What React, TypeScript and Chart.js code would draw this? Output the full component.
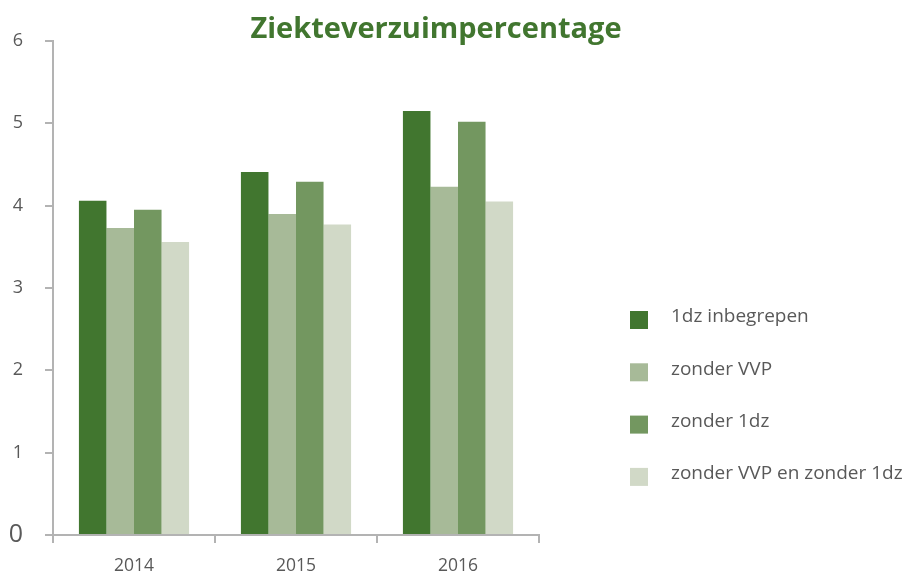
import { useEffect, useRef } from "react";
import { Chart, registerables } from "chart.js";

Chart.register(...registerables);

const TITLE = "Ziekteverzuimpercentage";
const categories = ["2014", "2015", "2016"];
const seriesLabels = ["1dz inbegrepen", "zonder VVP", "zonder 1dz", "zonder VVP en zonder 1dz"];
const inbegrepen = [4.06, 4.41, 5.15];
const zonderVVP = [3.73, 3.9, 4.23];
const zonder1dz = [3.95, 4.29, 5.02];
const zonderBeide = [3.56, 3.77, 4.05];
const seriesColors = ["#41762F", "#A7BA98", "#739760", "#D1D9C7"];
const yTicks = [0, 1, 2, 3, 4, 5, 6];

const textColor = "#595959";
const axisColor = "#B3B3B3";
const family = "'Open Sans', 'Noto Sans', sans-serif";

const titleLegendPlugin = {
  id: "titleLegend",
  afterDraw(chart: any) {
    const ctx = chart.ctx;
    ctx.save();
    ctx.fillStyle = "#41762F";
    ctx.font = `bold 29px ${family}`;
    ctx.textAlign = "center";
    ctx.textBaseline = "alphabetic";
    ctx.fillText(TITLE, 436, 38);

    const ds = chart.data.datasets;
    ctx.font = `19px ${family}`;
    ctx.textAlign = "left";
    ctx.textBaseline = "middle";
    ds.forEach((d: any, i: number) => {
      const cy = 320 + i * 52.3;
      ctx.fillStyle = d.backgroundColor;
      ctx.fillRect(630, cy - 9, 18, 18);
      ctx.fillStyle = textColor;
      ctx.fillText(d.label, 671, cy - 3);
    });
    ctx.restore();
  },
};

export default function App() {
  const ref = useRef<HTMLCanvasElement>(null);
  useEffect(() => {
    if (!ref.current) return;
    const values = [inbegrepen, zonderVVP, zonder1dz, zonderBeide];
    const chart = new Chart(ref.current, {
      type: "bar",
      data: {
        labels: categories,
        datasets: seriesLabels.map((label, i) => ({
          label,
          data: values[i],
          backgroundColor: seriesColors[i],
          borderWidth: 0,
          categoryPercentage: 0.68,
          barPercentage: 1.0,
        })),
      },
      options: {
        animation: false,
        responsive: true,
        maintainAspectRatio: false,
        layout: { padding: { left: 0, right: 373, top: 41, bottom: 0 } },
        plugins: {
          legend: { display: false },
          title: { display: false },
          tooltip: { enabled: false },
        },
        scales: {
          x: {
            grid: {
              display: true,
              drawOnChartArea: false,
              drawTicks: true,
              tickLength: 8,
              color: axisColor,
              lineWidth: 2,
              offset: true,
            },
            border: { display: true, color: axisColor, width: 2 },
            ticks: {
              color: textColor,
              font: { family, size: 17.5 },
              padding: 13,
            },
            afterFit: (s: any) => {
              s.height = 39;
            },
          },
          y: {
            min: 0,
            max: 6,
            afterBuildTicks: (s: any) => {
              s.ticks = yTicks.map((v) => ({ value: v }));
            },
            grid: {
              display: true,
              drawOnChartArea: false,
              drawTicks: true,
              tickLength: 8,
              color: axisColor,
              lineWidth: 2,
            },
            border: { display: true, color: axisColor, width: 2 },
            ticks: {
              color: textColor,
              padding: 22,
              font: (c: any) => ({
                family,
                size: c.tick && c.tick.value === 0 ? 25 : 18,
              }),
            },
            afterFit: (s: any) => {
              s.width = 53;
            },
          },
        },
      },
      plugins: [titleLegendPlugin],
    });
    return () => chart.destroy();
  }, []);

  return (
    <div style={{ position: "absolute", left: 0, top: 0, width: 912, height: 574, background: "#fff" }}>
      <canvas ref={ref} />
    </div>
  );
}
